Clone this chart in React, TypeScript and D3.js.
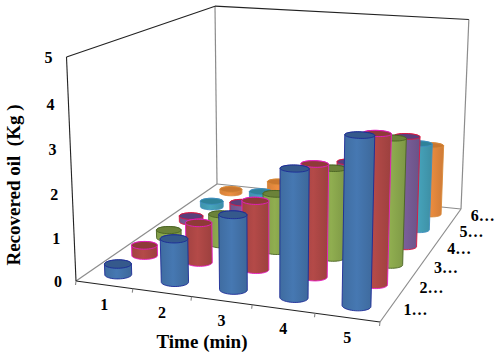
import React from "react";
import * as d3 from "d3";

const times = ["1", "2", "3", "4", "5"];
const depthLabels = ["1…", "2…", "3…", "4…", "5…", "6…"];
const yTicks = [0, 1, 2, 3, 4, 5];

const series1 = [0.25, 1.0, 1.7, 2.85, 3.68];
const series2 = [0.25, 0.95, 1.62, 2.6, 3.4];
const series3 = [0.2, 0.75, 1.4, 2.15, 2.98];
const series4 = [0.15, 0.65, 1.15, 1.95, 2.7];
const series5 = [0.15, 0.55, 1.0, 1.7, 2.2];
const series6 = [0.1, 0.45, 0.9, 1.5, 1.83];
const allSeries = [series1, series2, series3, series4, series5, series6];

const fills = ["#4678b2", "#b44a48", "#90ae50", "#7a5f9a", "#46a4bc", "#ee8e40"];
const caps = ["#35598c", "#8e3a38", "#6b8239", "#5a3f7c", "#2f8299", "#c9772f"];
const edges = ["#1c2a96", "#e81cc4", "#4a6323", "#e0143c", "#3f8fc0", "#d98a3a"];

// screen corners of the box: floor, then the top of the walls
const floorFL: [number, number] = [76, 281];
const floorFR: [number, number] = [380, 322];
const floorBR: [number, number] = [461, 209];
const floorBL: [number, number] = [217, 184];
const topFL: [number, number] = [66.5, 57];
const topBL: [number, number] = [215, 8];

// unit square -> quad homography, floor plane
function homography(p0: number[], p1: number[], p2: number[], p3: number[]) {
  // p0=(0,0) p1=(1,0) p2=(1,1) p3=(0,1)
  const dx1 = p1[0] - p2[0], dx2 = p3[0] - p2[0], sx = p0[0] - p1[0] + p2[0] - p3[0];
  const dy1 = p1[1] - p2[1], dy2 = p3[1] - p2[1], sy = p0[1] - p1[1] + p2[1] - p3[1];
  const den = dx1 * dy2 - dx2 * dy1;
  const g = (sx * dy2 - dx2 * sy) / den;
  const h = (dx1 * sy - sx * dy1) / den;
  return {
    a: p1[0] - p0[0] + g * p1[0], b: p3[0] - p0[0] + h * p3[0], c: p0[0],
    d: p1[1] - p0[1] + g * p1[1], e: p3[1] - p0[1] + h * p3[1], f: p0[1],
    g, h,
  };
}
const H = homography(floorFL, floorFR, floorBR, floorBL);

// vertical column of the projection, solved from the two known top corners
const n1 = H.c, m1 = H.f, w1 = 1;
const n2 = H.b + H.c, m2 = H.e + H.f, w2 = H.h + 1;
const vc = (topBL[0] * w2 - n2 - topFL[0] * w1 + n1) / (topFL[0] - topBL[0]);
const vp = topFL[0] * (w1 + vc) - n1;
const vq = topFL[1] * (w1 + vc) - m1;

function project(x: number, z: number, y: number): [number, number] {
  const w = H.g * x + H.h * z + 1 + vc * y;
  return [(H.a * x + H.b * z + H.c + vp * y) / w, (H.d * x + H.e * z + H.f + vq * y) / w];
}

const xBand = d3.scaleBand<string>().domain(times).range([0, 1]);
const zBand = d3.scaleBand<string>().domain(depthLabels).range([0, 1]);
const yScale = d3.scaleLinear().domain([0, 5]).range([0, 1]);
const rx = 0.22 * xBand.bandwidth();
const rz = 0.2 * zBand.bandwidth();

const line = d3.line();
const angles = d3.range(0, 360, 8).map((d) => (d * Math.PI) / 180);

function ring(cx: number, cz: number, y: number) {
  return angles.map((a) => project(cx + rx * Math.cos(a), cz + rz * Math.sin(a), y));
}

const seg = (a: number[], b: number[]) => `M${a[0]},${a[1]}L${b[0]},${b[1]}`;

function Cylinder({ row, col, value }: { row: number; col: number; value: number }) {
  const cx = xBand(times[col])! + xBand.bandwidth() / 2;
  const cz = zBand(depthLabels[row])! + zBand.bandwidth() / 2;
  const bottom = ring(cx, cz, 0);
  const top = ring(cx, cz, yScale(value));
  const hull = d3.polygonHull([...bottom, ...top] as [number, number][])!;
  return (
    <g>
      <path d={line(hull)! + "Z"} fill={`url(#grad${row})`} stroke={edges[row]} strokeWidth={0.9} />
      <path d={line(top)! + "Z"} fill={caps[row]} stroke={edges[row]} strokeWidth={0.9} />
    </g>
  );
}

export default function App() {
  const rows = d3.range(allSeries.length).reverse();
  const fl = project(0, 0, 0), fr = project(1, 0, 0), br = project(1, 1, 0), bl = project(0, 1, 0);
  const tfl = project(0, 0, 1), tbl = project(0, 1, 1), tbr = project(1, 1, 1);
  return (
    <svg width={500} height={356} style={{ position: "absolute", left: 0, top: 0, background: "#fff" }}
      fontFamily="'Liberation Serif', serif" fontWeight="bold" fill="#000">
      <defs>
        {fills.map((c, i) => (
          <linearGradient key={i} id={`grad${i}`} x1="0" x2="1" y1="0" y2="0">
            <stop offset="0" stopColor={d3.color(c)!.darker(0.3).formatHex()} />
            <stop offset="0.45" stopColor={c} />
            <stop offset="1" stopColor={d3.color(c)!.darker(0.4).formatHex()} />
          </linearGradient>
        ))}
      </defs>

      <g fill="none" stroke="#8c8c8c" strokeWidth={1.2}>
        <path d={seg(bl, br)} />
        <path d={seg(bl, tbl)} />
        <path d={seg(br, tbr)} />
        <path d={seg(fr, br)} />
        <path d={seg(fl, bl)} />
      </g>
      <g fill="none" stroke="#222" strokeWidth={1.1}>
        <path d={seg(fl, tfl)} />
        <path d={seg(tfl, tbl)} />
        <path d={seg(tbl, tbr)} />
        <path d={seg(fl, fr)} />
        {d3.range(0, 1.001, 0.2).map((t) => (
          <path key={t} d={seg(project(t, 0, 0), [project(t, 0, 0)[0] - 0.5, project(t, 0, 0)[1] + 4])} stroke="#888" />
        ))}
      </g>

      {rows.map((row) =>
        allSeries[row].map((v, col) => <Cylinder key={`${row}-${col}`} row={row} col={col} value={v} />)
      )}

      <g fontSize={16} textAnchor="middle">
        {yTicks.map((t) => {
          const p = project(0, 0, yScale(t));
          return <text key={t} x={p[0] - 18} y={p[1] + 6}>{t}</text>;
        })}
        {times.map((t) => {
          const p = project(xBand(t)! + xBand.bandwidth() / 2, 0, 0);
          return <text key={t} x={p[0]} y={p[1] + 25}>{t}</text>;
        })}
      </g>
      <g fontSize={16}>
        {depthLabels.map((t) => {
          const p = project(1, zBand(t)! + zBand.bandwidth() / 2, 0);
          return <text key={t} x={p[0] + 15} y={p[1] + 5}>{t}</text>;
        })}
      </g>
      <text x={202} y={348} fontSize={19} textAnchor="middle">Time (min)</text>
      <text transform="translate(20,185) rotate(-90)" fontSize={19} textAnchor="middle" xmlSpace="preserve">Recovered oil  (Kg )</text>
    </svg>
  );
}
